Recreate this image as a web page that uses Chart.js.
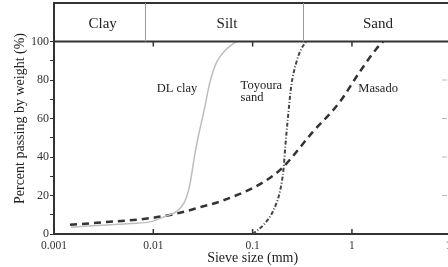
<!DOCTYPE html>
<html>
<head>
<meta charset="utf-8">
<script src="https://cdn.jsdelivr.net/npm/chart.js@4"></script>
<style>
    html, body { margin: 0; padding: 0; background: #fff; overflow: hidden; }
    #caixa { position: relative; width: 462px; height: 267px; }
</style>
</head>
<body>
<div id="caixa"><canvas id="grafico1"></canvas></div>
<script>
// diametro da peneira (mm) e % passante de cada material
const tamanhoDLclay = [0.00148, 0.003, 0.006, 0.0092, 0.0136, 0.0171, 0.0207, 0.0233, 0.0261, 0.0282, 0.0293, 0.033, 0.037, 0.0432, 0.0544, 0.0686];
const passanteDLclay = [3.5, 4.6, 5.5, 6.3, 9.5, 11.6, 16.8, 25.5, 41, 50, 54, 66, 78.5, 89, 96, 100];

const tamanhoToyoura = [0.1, 0.13, 0.1626, 0.19, 0.205, 0.213, 0.226, 0.245, 0.275, 0.308, 0.347];
const passanteToyoura = [0, 5, 12.5, 23, 34, 45, 59.7, 77, 89, 96, 100];

const tamanhoMasado = [0.00145, 0.003, 0.0092, 0.0185, 0.03, 0.0508, 0.126, 0.2, 0.4, 0.75, 1.19, 1.75, 2.07];
const passanteMasado = [4.8, 6, 8.2, 11, 14, 17.5, 26.7, 34.5, 52.8, 68.4, 84, 96, 100];

// faixas granulometricas (limites em mm)
const nomesFaixas = ['Clay', 'Silt', 'Sand'];
const limitesFaixas = [0.0083, 0.32];

// rotulos do eixo x (decadas)
const rotulosX = ['0.001', '0.01', '0.1', '1', '10'];

const fonte = "'Liberation Serif', 'Times New Roman', serif";

function montarPontos(xs, ys) {
    const pts = [];
    for (let i = 0; i < xs.length; i++) {
        pts.push({ x: xs[i], y: ys[i] });
    }
    return pts;
}

function ehDecada(v) {
    const e = Math.log10(v);
    return Math.abs(e - Math.round(e)) < 1e-6;
}

// desenha a faixa Clay/Silt/Sand, os rotulos das curvas e os ticks internos
const pluginFaixas = {
    id: 'faixas',
    afterDraw(chart) {
        const ctx = chart.ctx;
        const area = chart.chartArea;
        const x = chart.scales.x;
        const y = chart.scales.y;
        const y100 = y.getPixelForValue(100);
        const direita = Math.min(area.right, 447);

        ctx.save();
        ctx.strokeStyle = '#333';
        ctx.lineWidth = 2;
        ctx.beginPath();
        ctx.moveTo(area.left, area.top);
        ctx.lineTo(area.right, area.top);
        ctx.moveTo(area.left, y100);
        ctx.lineTo(area.right, y100);
        ctx.stroke();

        ctx.strokeStyle = '#999';
        ctx.lineWidth = 1;
        ctx.beginPath();
        limitesFaixas.forEach(l => {
            const px = Math.round(x.getPixelForValue(l)) + 0.5;
            ctx.moveTo(px, area.top);
            ctx.lineTo(px, y100);
        });
        ctx.stroke();

        // nomes das faixas
        const bordas = [area.left].concat(limitesFaixas.map(l => x.getPixelForValue(l)), [direita]);
        ctx.fillStyle = '#222';
        ctx.font = '15px ' + fonte;
        ctx.textAlign = 'center';
        ctx.textBaseline = 'middle';
        for (let i = 0; i < nomesFaixas.length; i++) {
            ctx.fillText(nomesFaixas[i], (bordas[i] + bordas[i + 1]) / 2 + 3, (area.top + y100) / 2 + 2);
        }

        // ticks internos nas decadas
        ctx.strokeStyle = '#333';
        ctx.lineWidth = 1.5;
        ctx.beginPath();
        x.ticks.forEach(t => {
            if (ehDecada(t.value) && t.value > 0.001 && t.value < 10) {
                const px = x.getPixelForValue(t.value);
                ctx.moveTo(px, area.bottom);
                ctx.lineTo(px, area.bottom - 5);
                ctx.moveTo(px, y100);
                ctx.lineTo(px, y100 + 5);
            }
        });
        ctx.stroke();

        ctx.strokeStyle = '#bbb';
        ctx.lineWidth = 1;
        ctx.beginPath();
        [20, 40, 60, 80].forEach(v => {
            const py = y.getPixelForValue(v);
            ctx.moveTo(direita - 5, py);
            ctx.lineTo(direita, py);
        });
        ctx.stroke();

        // rotulos das curvas
        const rotulos = chart.options.plugins.faixas.rotulos;
        ctx.font = '12.5px ' + fonte;
        ctx.textAlign = 'left';
        ctx.fillStyle = '#222';
        rotulos.forEach(r => {
            const px = x.getPixelForValue(r.x);
            const py = y.getPixelForValue(r.y);
            r.texto.split('\n').forEach((linha, k) => {
                ctx.fillText(linha, px, py + k * 12);
            });
        });
        ctx.restore();
    }
};

const dados1 = {
    datasets: [{
        label: 'DL clay',
        data: montarPontos(tamanhoDLclay, passanteDLclay),
        borderColor: '#bdbdbd',
        borderWidth: 1.5,
        cubicInterpolationMode: 'monotone',
        showLine: true,
        pointRadius: 0
    }, {
        label: 'Toyoura sand',
        data: montarPontos(tamanhoToyoura, passanteToyoura),
        borderColor: '#444',
        borderWidth: 2,
        borderDash: [4, 2, 1, 2],
        cubicInterpolationMode: 'monotone',
        showLine: true,
        pointRadius: 0
    }, {
        label: 'Masado',
        data: montarPontos(tamanhoMasado, passanteMasado),
        borderColor: '#333',
        borderWidth: 2.5,
        borderDash: [7, 5],
        cubicInterpolationMode: 'monotone',
        showLine: true,
        pointRadius: 0
    }]
};

const config1 = {
    type: 'scatter',
    data: dados1,
    plugins: [pluginFaixas],
    options: {
        responsive: true,
        maintainAspectRatio: false,
        animation: false,
        layout: { padding: { top: 3, left: 0, right: 0, bottom: 0 } },
        plugins: {
            legend: { display: false },
            tooltip: { enabled: false },
            faixas: {
                rotulos: [
                    { texto: 'DL clay', x: 0.0108, y: 75.5 },
                    { texto: 'Toyoura\nsand', x: 0.0757, y: 77 },
                    { texto: 'Masado', x: 1.16, y: 75.5 }
                ]
            }
        },
        scales: {
            x: {
                type: 'logarithmic',
                min: 0.001,
                max: 10,
                border: { color: '#333', width: 2 },
                grid: { display: false, drawTicks: false, tickLength: 0 },
                ticks: {
                    autoSkip: false,
                    maxRotation: 0,
                    padding: 5,
                    color: '#333',
                    font: { family: fonte, size: 11.5 },
                    callback: function (v) {
                        return ehDecada(v) ? rotulosX[Math.round(Math.log10(v)) + 3] : '';
                    }
                },
                title: {
                    display: true,
                    text: 'Sieve size (mm)',
                    color: '#222',
                    font: { family: fonte, size: 14 },
                    padding: { top: 0, bottom: 0 }
                },
                afterFit: function (s) { s.height = 33; }
            },
            y: {
                min: 0,
                max: 120,
                border: { color: '#333', width: 2 },
                grid: {
                    drawOnChartArea: false,
                    tickLength: 4,
                    color: '#333'
                },
                ticks: {
                    stepSize: 10,
                    autoSkip: false,
                    padding: 1,
                    color: '#333',
                    font: { family: fonte, size: 12 },
                    callback: v => (v % 20 === 0) ? v : ''
                },
                afterBuildTicks: function (s) {
                    s.ticks = s.ticks.filter(t => t.value <= 100);
                },
                title: {
                    display: true,
                    text: 'Percent passing by weight (%)',
                    color: '#222',
                    font: { family: fonte, size: 14 },
                    padding: { top: 12, bottom: 0 }
                },
                afterFit: function (s) {
                    s.width = 54;
                    s.paddingTop = 0;
                    s.paddingBottom = 0;
                }
            }
        }
    }
};

const grafico1 = new Chart(document.getElementById('grafico1'), config1);
</script>
</body>
</html>
